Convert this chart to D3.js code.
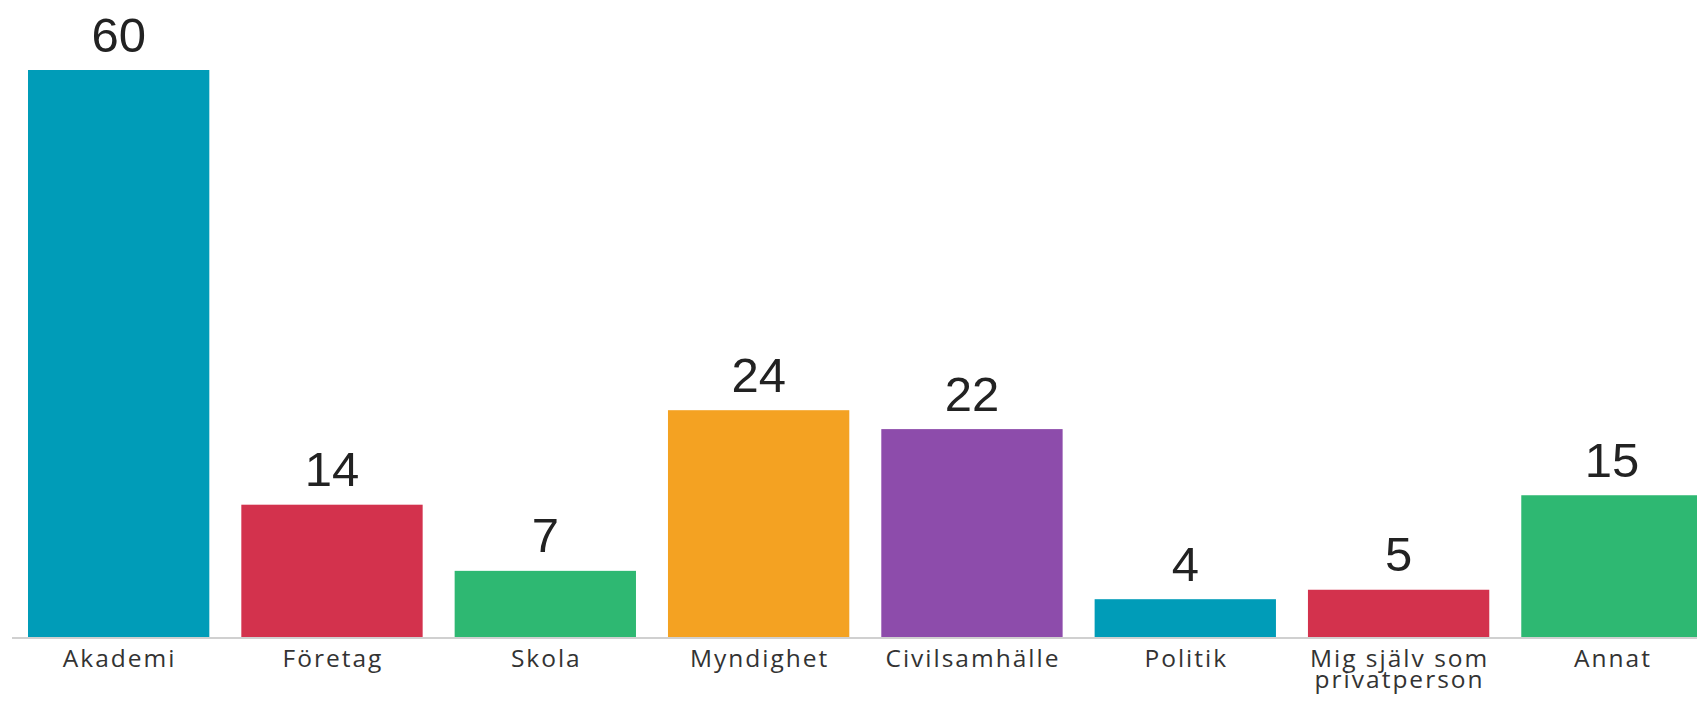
<!DOCTYPE html>
<html>
<head>
<meta charset="utf-8">
<script src="https://cdn.jsdelivr.net/npm/d3@7"></script>
<style>
  html, body { margin: 0; padding: 0; background: #fff; }
  svg { display: block; }
</style>
</head>
<body>
<svg id="chart" width="1697" height="701"></svg>
<script>
const categories = ["Akademi", "Företag", "Skola", "Myndighet", "Civilsamhälle", "Politik", "Mig själv som\nprivatperson", "Annat"];
const values = [60, 14, 7, 24, 22, 4, 5, 15];
const colors = ["#009cb8", "#d3324d", "#2eb872", "#f4a222", "#8d4cab", "#009cb8", "#d3324d", "#2eb872"];

const svg = d3.select("#chart");
const baseY = 637;
const x = d3.scaleBand()
  .domain(categories)
  .range([12, 1718.6])
  .paddingInner(0.15)
  .paddingOuter(0.075);
const y = d3.scaleLinear().domain([0, 60]).range([baseY, 70]);

const data = categories.map((c, i) => ({ c, v: values[i], col: colors[i] }));

svg.append("g").selectAll("rect").data(data).join("rect")
  .attr("x", d => x(d.c))
  .attr("y", d => y(d.v))
  .attr("width", x.bandwidth())
  .attr("height", d => y(0) - y(d.v))
  .attr("fill", d => d.col);

svg.append("line")
  .attr("x1", 12).attr("x2", 1697)
  .attr("y1", baseY + 1).attr("y2", baseY + 1)
  .attr("stroke", "#d0d0d0").attr("stroke-width", 2);

svg.append("g").selectAll("text").data(data).join("text")
  .attr("x", d => x(d.c) + x.bandwidth() / 2)
  .attr("y", d => y(d.v) - 18.5)
  .attr("text-anchor", "middle")
  .attr("font-family", "'Liberation Sans', Arial, sans-serif")
  .attr("font-size", 49)
  .attr("fill", "#222")
  .text(d => d.v);

const labels = svg.append("g").selectAll("text").data(data).join("text")
  .attr("x", d => x(d.c) + x.bandwidth() / 2)
  .attr("y", 667)
  .attr("text-anchor", "middle")
  .attr("font-family", "'Open Sans', Lato, sans-serif")
  .attr("font-size", 24.5)
  .attr("letter-spacing", 2)
  .attr("fill", "#333");
labels.each(function(d) {
  const lines = d.c.split("\n");
  const t = d3.select(this);
  lines.forEach((ln, i) => {
    t.append("tspan")
      .attr("x", x(d.c) + x.bandwidth() / 2 + 1)
      .attr("dy", i === 0 ? 0 : 21)
      .text(ln);
  });
});
</script>
</body>
</html>
